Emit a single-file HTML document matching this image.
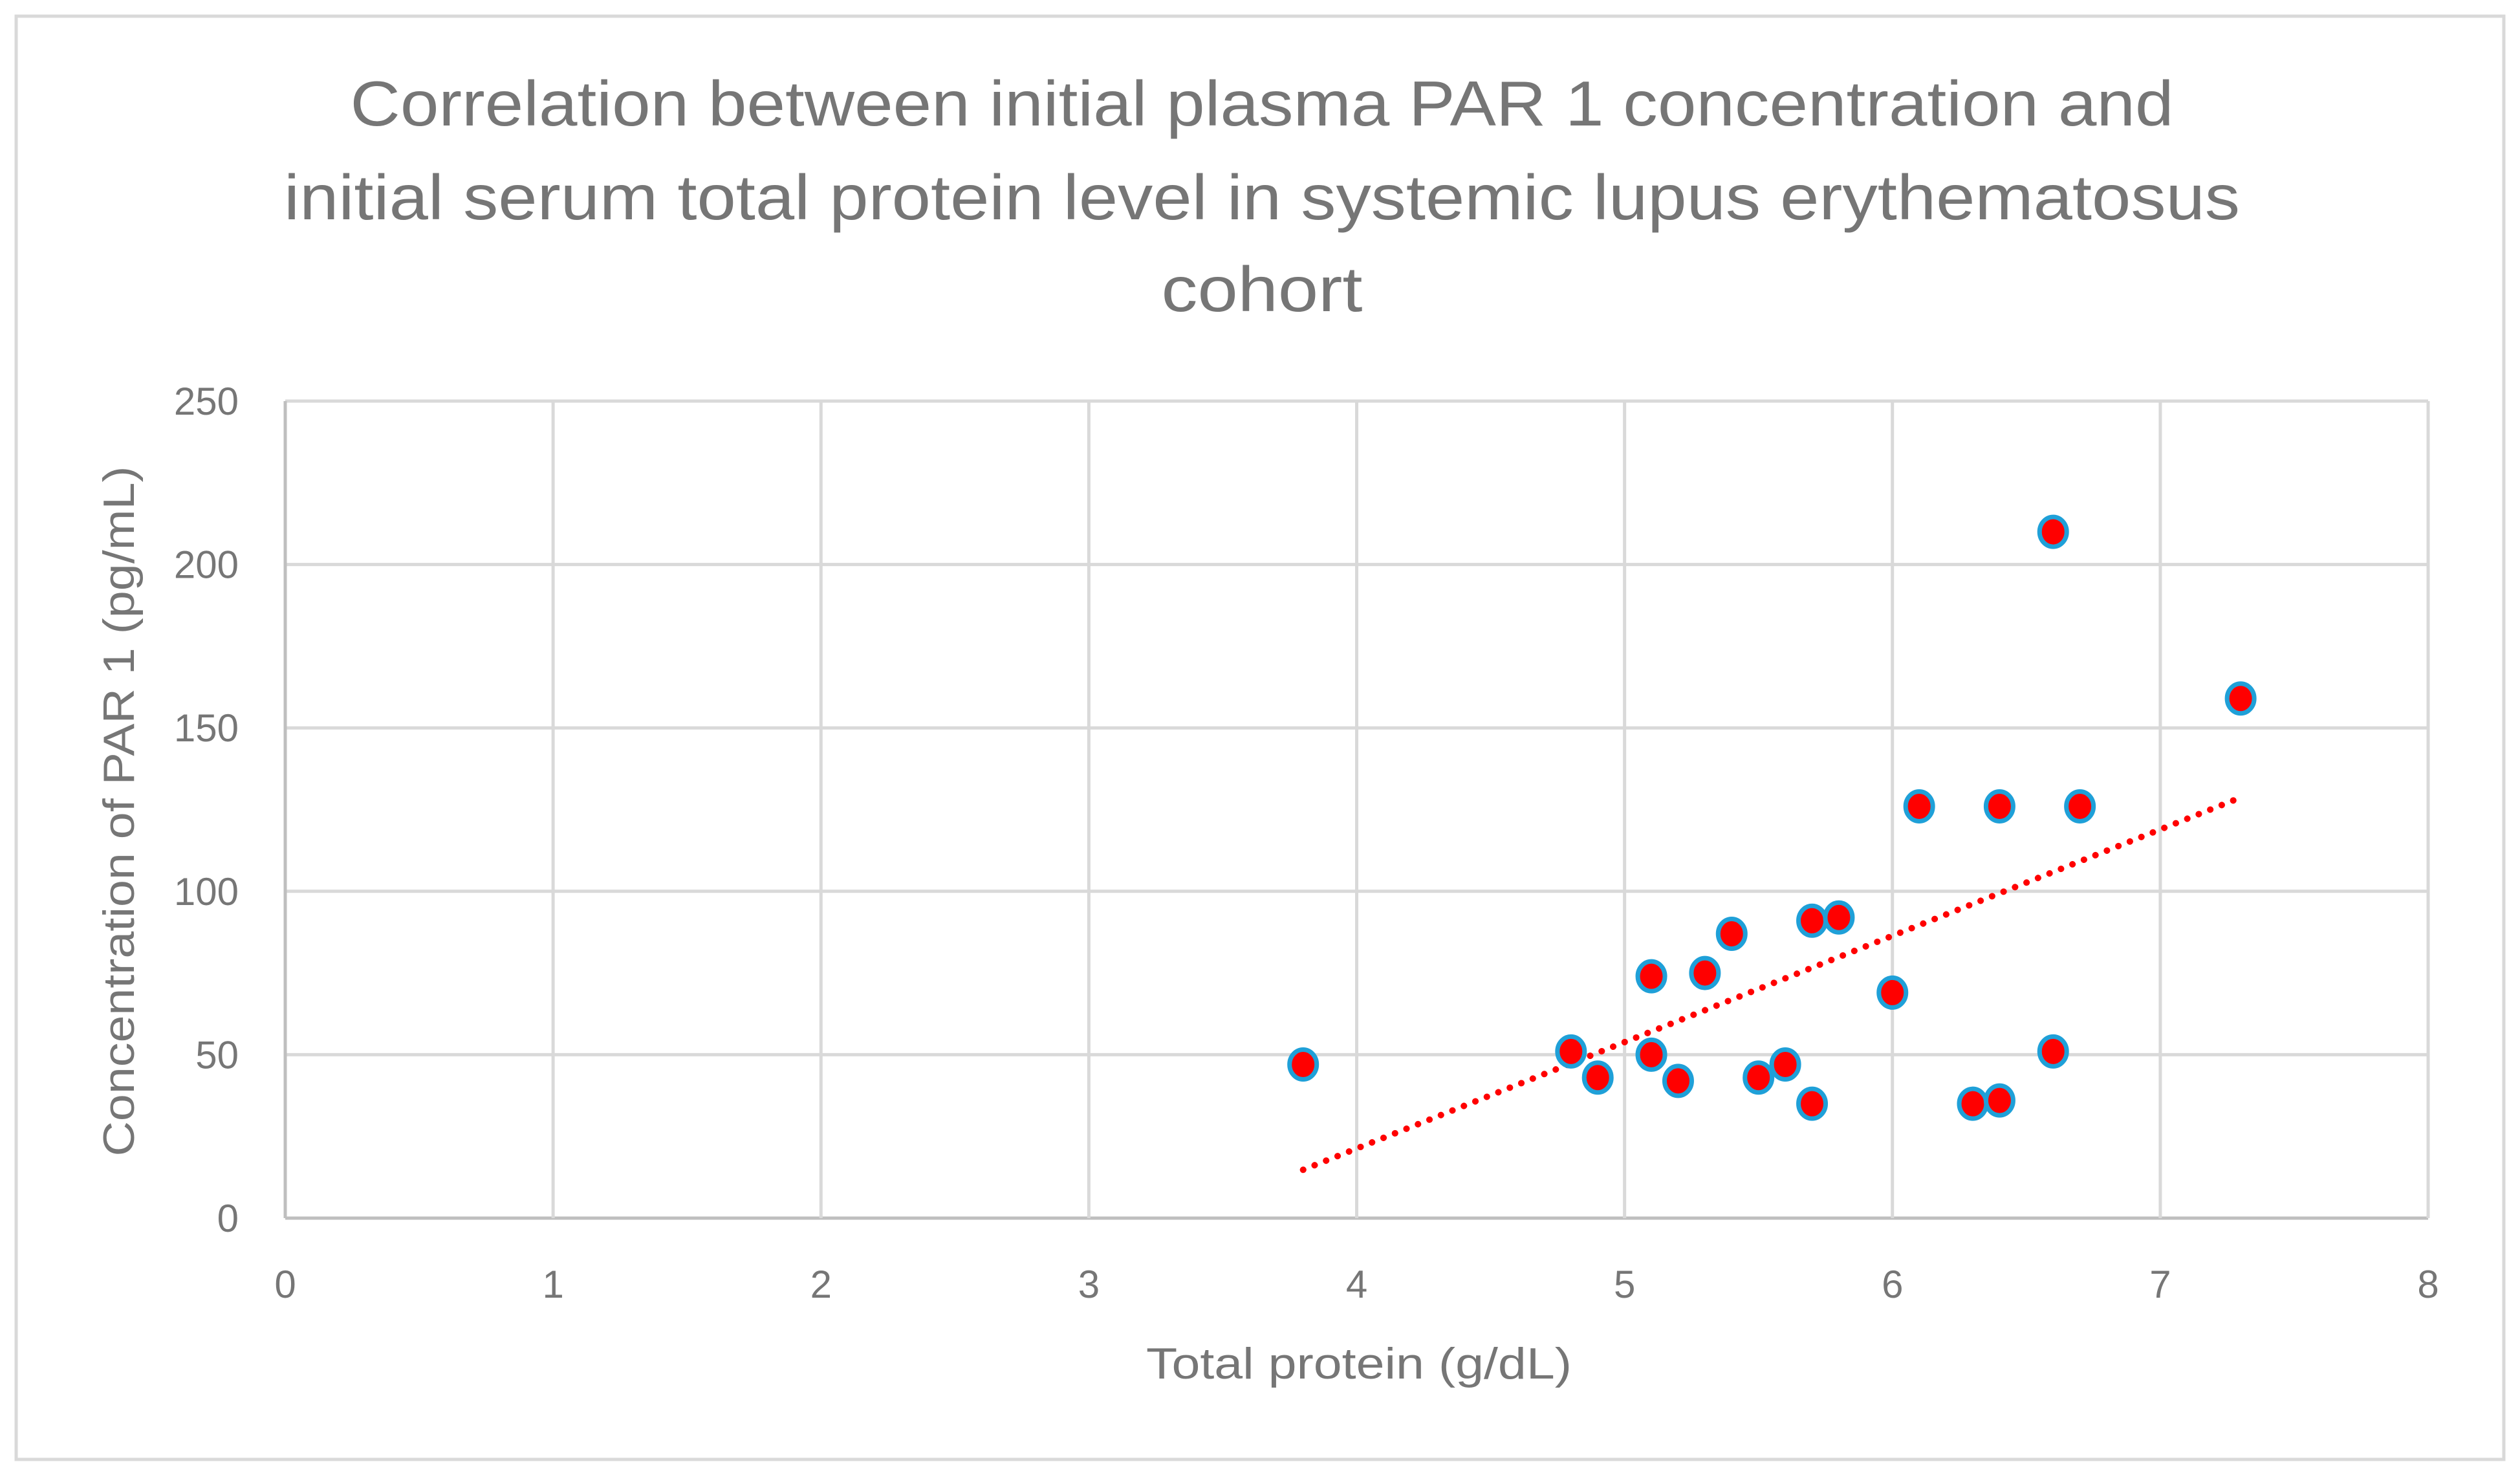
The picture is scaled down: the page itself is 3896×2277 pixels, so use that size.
<!DOCTYPE html>
<html><head><meta charset="utf-8"><style>html,body{margin:0;padding:0;background:#fff}svg{display:block}</style></head>
<body>
<svg id="chart" width="3896" height="2277" viewBox="0 0 3896 2277" xmlns="http://www.w3.org/2000/svg" font-family="'Liberation Sans', sans-serif">
<rect x="25" y="25" width="3846" height="2231" fill="#fff" stroke="#d9d9d9" stroke-width="5"/>
<g fill="#767676" font-size="98" text-anchor="middle">
<text x="1951" y="194" textLength="2819" lengthAdjust="spacingAndGlyphs">Correlation between initial plasma PAR 1 concentration and</text>
<text x="1951" y="339" textLength="3024" lengthAdjust="spacingAndGlyphs">initial serum total protein level in systemic lupus erythematosus</text>
<text x="1951" y="481" textLength="311" lengthAdjust="spacingAndGlyphs">cohort</text>
</g>
<g id="grid"></g>
<g id="ticks" fill="#767676" font-size="60"></g>
<g id="trend"></g>
<g id="points"></g>
<text x="2101" y="2131" text-anchor="middle" fill="#767676" font-size="68" textLength="658" lengthAdjust="spacingAndGlyphs">Total protein (g/dL)</text>
<text transform="translate(207,1254) rotate(-90)" text-anchor="middle" fill="#767676" font-size="68" textLength="1067" lengthAdjust="spacingAndGlyphs">Concentration of PAR 1 (pg/mL)</text>
</svg>
<script>
const xTicks = [0,1,2,3,4,5,6,7,8];
const yTicks = [0,50,100,150,200,250];
const protein = [3.8,4.8,4.9,5.1,5.1,5.2,5.3,5.4,5.5,5.6,5.7,5.7,5.8,6.0,6.1,6.3,6.4,6.4,6.6,6.6,6.7,7.3];
const par1 = [47,51,43,74,50,42,75,87,43,47,91,35,92,69,126,35,126,36,210,51,126,159];

const NS = 'http://www.w3.org/2000/svg';
const X0 = 441, X1 = 3754, Y0 = 1883, Y1 = 620;
const xs = v => X0 + (v - 0) / 8 * (X1 - X0);
const ys = v => Y0 - (v - 0) / 250 * (Y0 - Y1);
function mk(tag, attrs, parent) {
  const e = document.createElementNS(NS, tag);
  for (const k in attrs) e.setAttribute(k, attrs[k]);
  parent.appendChild(e);
  return e;
}
const grid = document.getElementById('grid');
const ticks = document.getElementById('ticks');
yTicks.forEach(v => {
  const l = mk('line', {x1: X0, x2: X1, y1: ys(v), y2: ys(v), stroke: v === 0 ? '#bfbfbf' : '#d9d9d9', 'stroke-width': 5}, grid);
  
  
  const t = mk('text', {x: 369, y: ys(v) + 21, 'text-anchor': 'end'}, ticks);
  t.textContent = v;
  
  
});
xTicks.forEach(v => {
  const l = mk('line', {x1: xs(v), x2: xs(v), y1: Y1, y2: Y0, stroke: v === 0 ? '#bfbfbf' : '#d9d9d9', 'stroke-width': 5}, grid);
  
  
  const t = mk('text', {x: xs(v), y: 2006, 'text-anchor': 'middle'}, ticks);
  t.textContent = v;
  
  
});
const n = protein.length;
const mx = protein.reduce((a, b) => a + b, 0) / n;
const my = par1.reduce((a, b) => a + b, 0) / n;
let sxy = 0, sxx = 0;
for (let i = 0; i < n; i++) { sxy += (protein[i] - mx) * (par1[i] - my); sxx += (protein[i] - mx) ** 2; }
const slope = sxy / sxx, icpt = my - slope * mx;
const xmin = Math.min(...protein), xmax = Math.max(...protein);
const tl = mk('line', {x1: xs(xmin), y1: ys(icpt + slope * xmin), x2: xs(xmax), y2: ys(icpt + slope * xmax), stroke: '#ff0000', 'stroke-width': 10, 'stroke-dasharray': '0.1 19', 'stroke-linecap': 'round'}, document.getElementById('trend'));


const pts = document.getElementById('points');
for (let i = 0; i < n; i++) {
  const c = mk('ellipse', {cx: xs(protein[i]), cy: ys(par1[i]), rx: 21, ry: 23, fill: '#ff0000', stroke: '#1fa0d8', 'stroke-width': 7}, pts);
  
  
}
</script>
</body></html>
